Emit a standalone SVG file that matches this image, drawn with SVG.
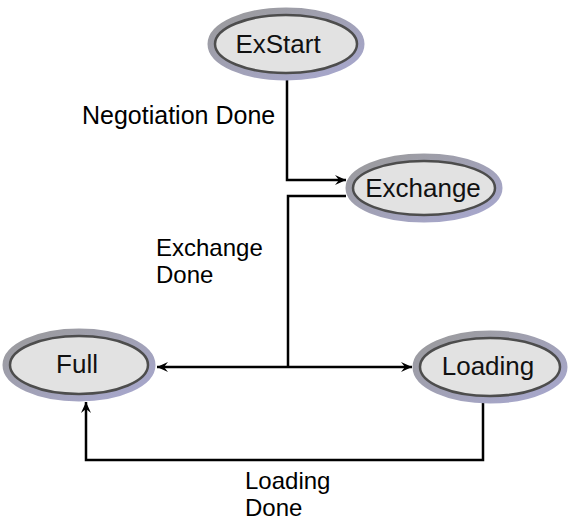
<svg xmlns="http://www.w3.org/2000/svg" width="570" height="528" viewBox="0 0 570 528">
<style>
.ring{fill:none;stroke:url(#rg);stroke-width:7}
.core{fill:#e2e2e2;stroke:#4d4d4d;stroke-width:2.5}
.nt{font-family:"Liberation Sans",Arial,sans-serif;font-size:26px;fill:#111;text-anchor:middle}
.lb{font-family:"Liberation Sans",Arial,sans-serif;font-size:25px;fill:#000}
.lb2{font-family:"Liberation Sans",Arial,sans-serif;font-size:24px;fill:#000}
.cn{fill:none;stroke:#000;stroke-width:2.5}
</style>
<defs>
<linearGradient id="rg" x1="0" y1="0" x2="1" y2="1">
<stop offset="0" stop-color="#9a9a9a"/>
<stop offset="1" stop-color="#a8a8d0"/>
</linearGradient>
<marker id="ah" markerWidth="12" markerHeight="10" refX="11" refY="5" orient="auto" markerUnits="userSpaceOnUse">
<path d="M0,0 L11,5 L0,10 L4,5 Z" fill="#000"/>
</marker>
</defs>
<g id="connectors">
<path class="cn" d="M287,80 V180 H346" marker-end="url(#ah)"/>
<path class="cn" d="M346,196 H288 V367"/>
<path class="cn" d="M288,367 H157" marker-end="url(#ah)"/>
<path class="cn" d="M288,367 H412" marker-end="url(#ah)"/>
<path class="cn" d="M483,402 V460 H86 V402" marker-end="url(#ah)"/>
<text class="lb" x="82" y="124">Negotiation Done</text>
<text class="lb2" x="156" y="256">Exchange</text>
<text class="lb2" x="156" y="283">Done</text>
<text class="lb2" x="245" y="489">Loading</text>
<text class="lb2" x="245" y="516">Done</text>
</g>
<g id="exstart">
<ellipse class="ring" cx="286" cy="44" rx="75" ry="33"/>
<ellipse class="core" cx="286" cy="44" rx="71" ry="29"/>
<text class="nt" x="278" y="53">ExStart</text>
</g>
<g id="exchange">
<ellipse class="ring" cx="424" cy="188" rx="75" ry="31"/>
<ellipse class="core" cx="424" cy="188" rx="71" ry="27"/>
<text class="nt" x="423" y="197">Exchange</text>
</g>
<g id="full">
<ellipse class="ring" cx="79" cy="365" rx="73" ry="33"/>
<ellipse class="core" cx="79" cy="365" rx="69" ry="29"/>
<text class="nt" x="77" y="373">Full</text>
</g>
<g id="loading">
<ellipse class="ring" cx="490" cy="367" rx="74" ry="33"/>
<ellipse class="core" cx="490" cy="367" rx="70" ry="29"/>
<text class="nt" x="488" y="375">Loading</text>
</g>
</svg>
